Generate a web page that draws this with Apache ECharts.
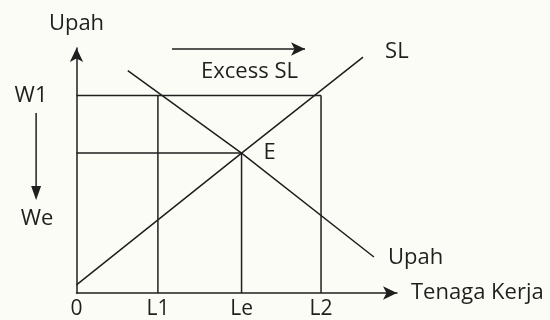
<!DOCTYPE html>
<html>
<head>
<meta charset="utf-8">
<script src="https://cdn.jsdelivr.net/npm/echarts@6/dist/echarts.min.js"></script>
<style>
  html, body { margin: 0; padding: 0; background: #fcfcf6; }
  #chart { width: 550px; height: 320px; }
</style>
</head>
<body>
<div id="chart"></div>
<script>
// titik-titik pada sumbu (satuan bebas 0..100)
const xTickNames = ['0', 'L1', 'Le', 'L2'];
const xTickValues = [0, 25.4, 51.5, 76.3];
const wageNames = ['W1', 'We'];
const wageValues = [80.6, 57.1];

// kurva penawaran (SL) dan permintaan (Upah)
const supplyLine = [[0, 3.3], [51.5, 57.1], [89.4, 96.3]];
const demandLine = [[16, 90.8], [51.5, 57.1], [92.8, 14.7]];

// panah excess supply
const excessArrow = [[29.8, 99.6], [71.3, 99.6]];

const W1 = wageValues[0], WE = wageValues[1];
const L1 = xTickValues[1], LE = xTickValues[2], L2 = xTickValues[3];

const ink = '#1f1f1f';
const font = 'Open Sans';
const fs = 22;

// garis bantu
const guides = [
    [[0, W1], [L2, W1]],
    [[L1, 0], [L1, W1]],
    [[L2, 0], [L2, W1]],
    [[0, WE], [LE, WE]],
    [[LE, 0], [LE, WE]]
];

const chart = echarts.init(document.getElementById('chart'));

const guideSeries = guides.map(g => ({
    type: 'line',
    data: g,
    symbol: 'none',
    lineStyle: { color: ink, width: 1.5 },
    silent: true
}));

// titik tanpa simbol terlihat, tapi labelnya tetap tampil
const hidden = { symbol: 'circle', symbolSize: 0.1 };

chart.setOption({
    backgroundColor: '#fcfcf6',
    animation: false,
    grid: { left: 76.5, top: 48, width: 320.5, height: 245 },
    xAxis: {
        type: 'value', min: 0, max: 100,
        name: 'Tenaga Kerja', nameLocation: 'end', nameGap: 14,
        nameTextStyle: { color: ink, fontSize: fs, fontFamily: font, verticalAlign: 'middle', align: 'left' },
        axisLine: { lineStyle: { color: ink, width: 1.5 }, symbol: ['none', 'arrow'], symbolSize: [10, 14] },
        axisTick: { show: false },
        splitLine: { show: false },
        axisLabel: {
            customValues: xTickValues,
            formatter: v => xTickNames[xTickValues.indexOf(v)],
            color: ink, fontSize: 21, fontFamily: font, margin: 6
        }
    },
    yAxis: {
        type: 'value', min: 0, max: 100,
        name: 'Upah', nameLocation: 'end', nameGap: 13,
        nameTextStyle: { color: ink, fontSize: fs, fontFamily: font, align: 'center' },
        axisLine: { lineStyle: { color: ink, width: 1.5 }, symbol: ['none', 'arrow'], symbolSize: [10, 14] },
        axisTick: { show: false },
        splitLine: { show: false },
        axisLabel: {
            customValues: [W1],
            formatter: () => wageNames[0],
            color: ink, fontSize: fs, fontFamily: font, margin: 29
        }
    },
    series: [
        ...guideSeries,
        {
            type: 'line',
            data: supplyLine.map((p, i) => i === 1
                ? { value: p, ...hidden, label: { show: true, formatter: 'E', position: 'right', distance: 22 } }
                : i === supplyLine.length - 1
                    ? { value: p, ...hidden, label: { show: true, formatter: 'SL', position: 'right', distance: 22, offset: [0, -5] } }
                    : p),
            symbol: 'none',
            lineStyle: { color: ink, width: 1.5 },
            itemStyle: { color: ink },
            label: { color: ink, fontSize: fs, fontFamily: font },
            markLine: {
                silent: true,
                symbol: ['none', 'arrow'],
                symbolSize: [10, 14],
                lineStyle: { color: ink, width: 1.5, type: 'solid' },
                label: {
                    show: true, formatter: 'Excess SL', position: 'insideMiddleBottom',
                    color: ink, fontSize: fs, fontFamily: font, distance: 12, offset: [11, 0]
                },
                data: [[{ coord: excessArrow[0] }, { coord: excessArrow[1] }]]
            }
        },
        {
            type: 'line',
            data: demandLine.map((p, i) => i === demandLine.length - 1
                ? { value: p, ...hidden, label: { show: true, formatter: 'Upah', position: 'right', distance: 14, offset: [0, 1] } }
                : p),
            symbol: 'none',
            lineStyle: { color: ink, width: 1.5 },
            itemStyle: { color: ink },
            label: { color: ink, fontSize: fs, fontFamily: font }
        }
    ]
});

// panah turun W1 -> We di sebelah kiri sumbu
const arrowX = -12.6;
const pTop = chart.convertToPixel({ gridIndex: 0 }, [arrowX, 73.5]);
const pTip = chart.convertToPixel({ gridIndex: 0 }, [arrowX, 38]);
const pWe = chart.convertToPixel({ gridIndex: 0 }, [-12.3, 30.2]);

chart.setOption({
    graphic: [
        {
            type: 'line',
            shape: { x1: pTop[0], y1: pTop[1], x2: pTip[0], y2: pTip[1] - 12 },
            style: { stroke: ink, lineWidth: 1.5 }
        },
        {
            type: 'polygon',
            shape: { points: [[pTip[0] - 5, pTip[1] - 14], [pTip[0] + 5, pTip[1] - 14], [pTip[0], pTip[1]]] },
            style: { fill: ink }
        },
        {
            type: 'text',
            style: {
                text: wageNames[1], x: pWe[0], y: pWe[1],
                fill: ink, font: fs + 'px "Open Sans"', align: 'center', verticalAlign: 'middle'
            }
        }
    ]
});

window.addEventListener('resize', () => chart.resize());
</script>
</body>
</html>
